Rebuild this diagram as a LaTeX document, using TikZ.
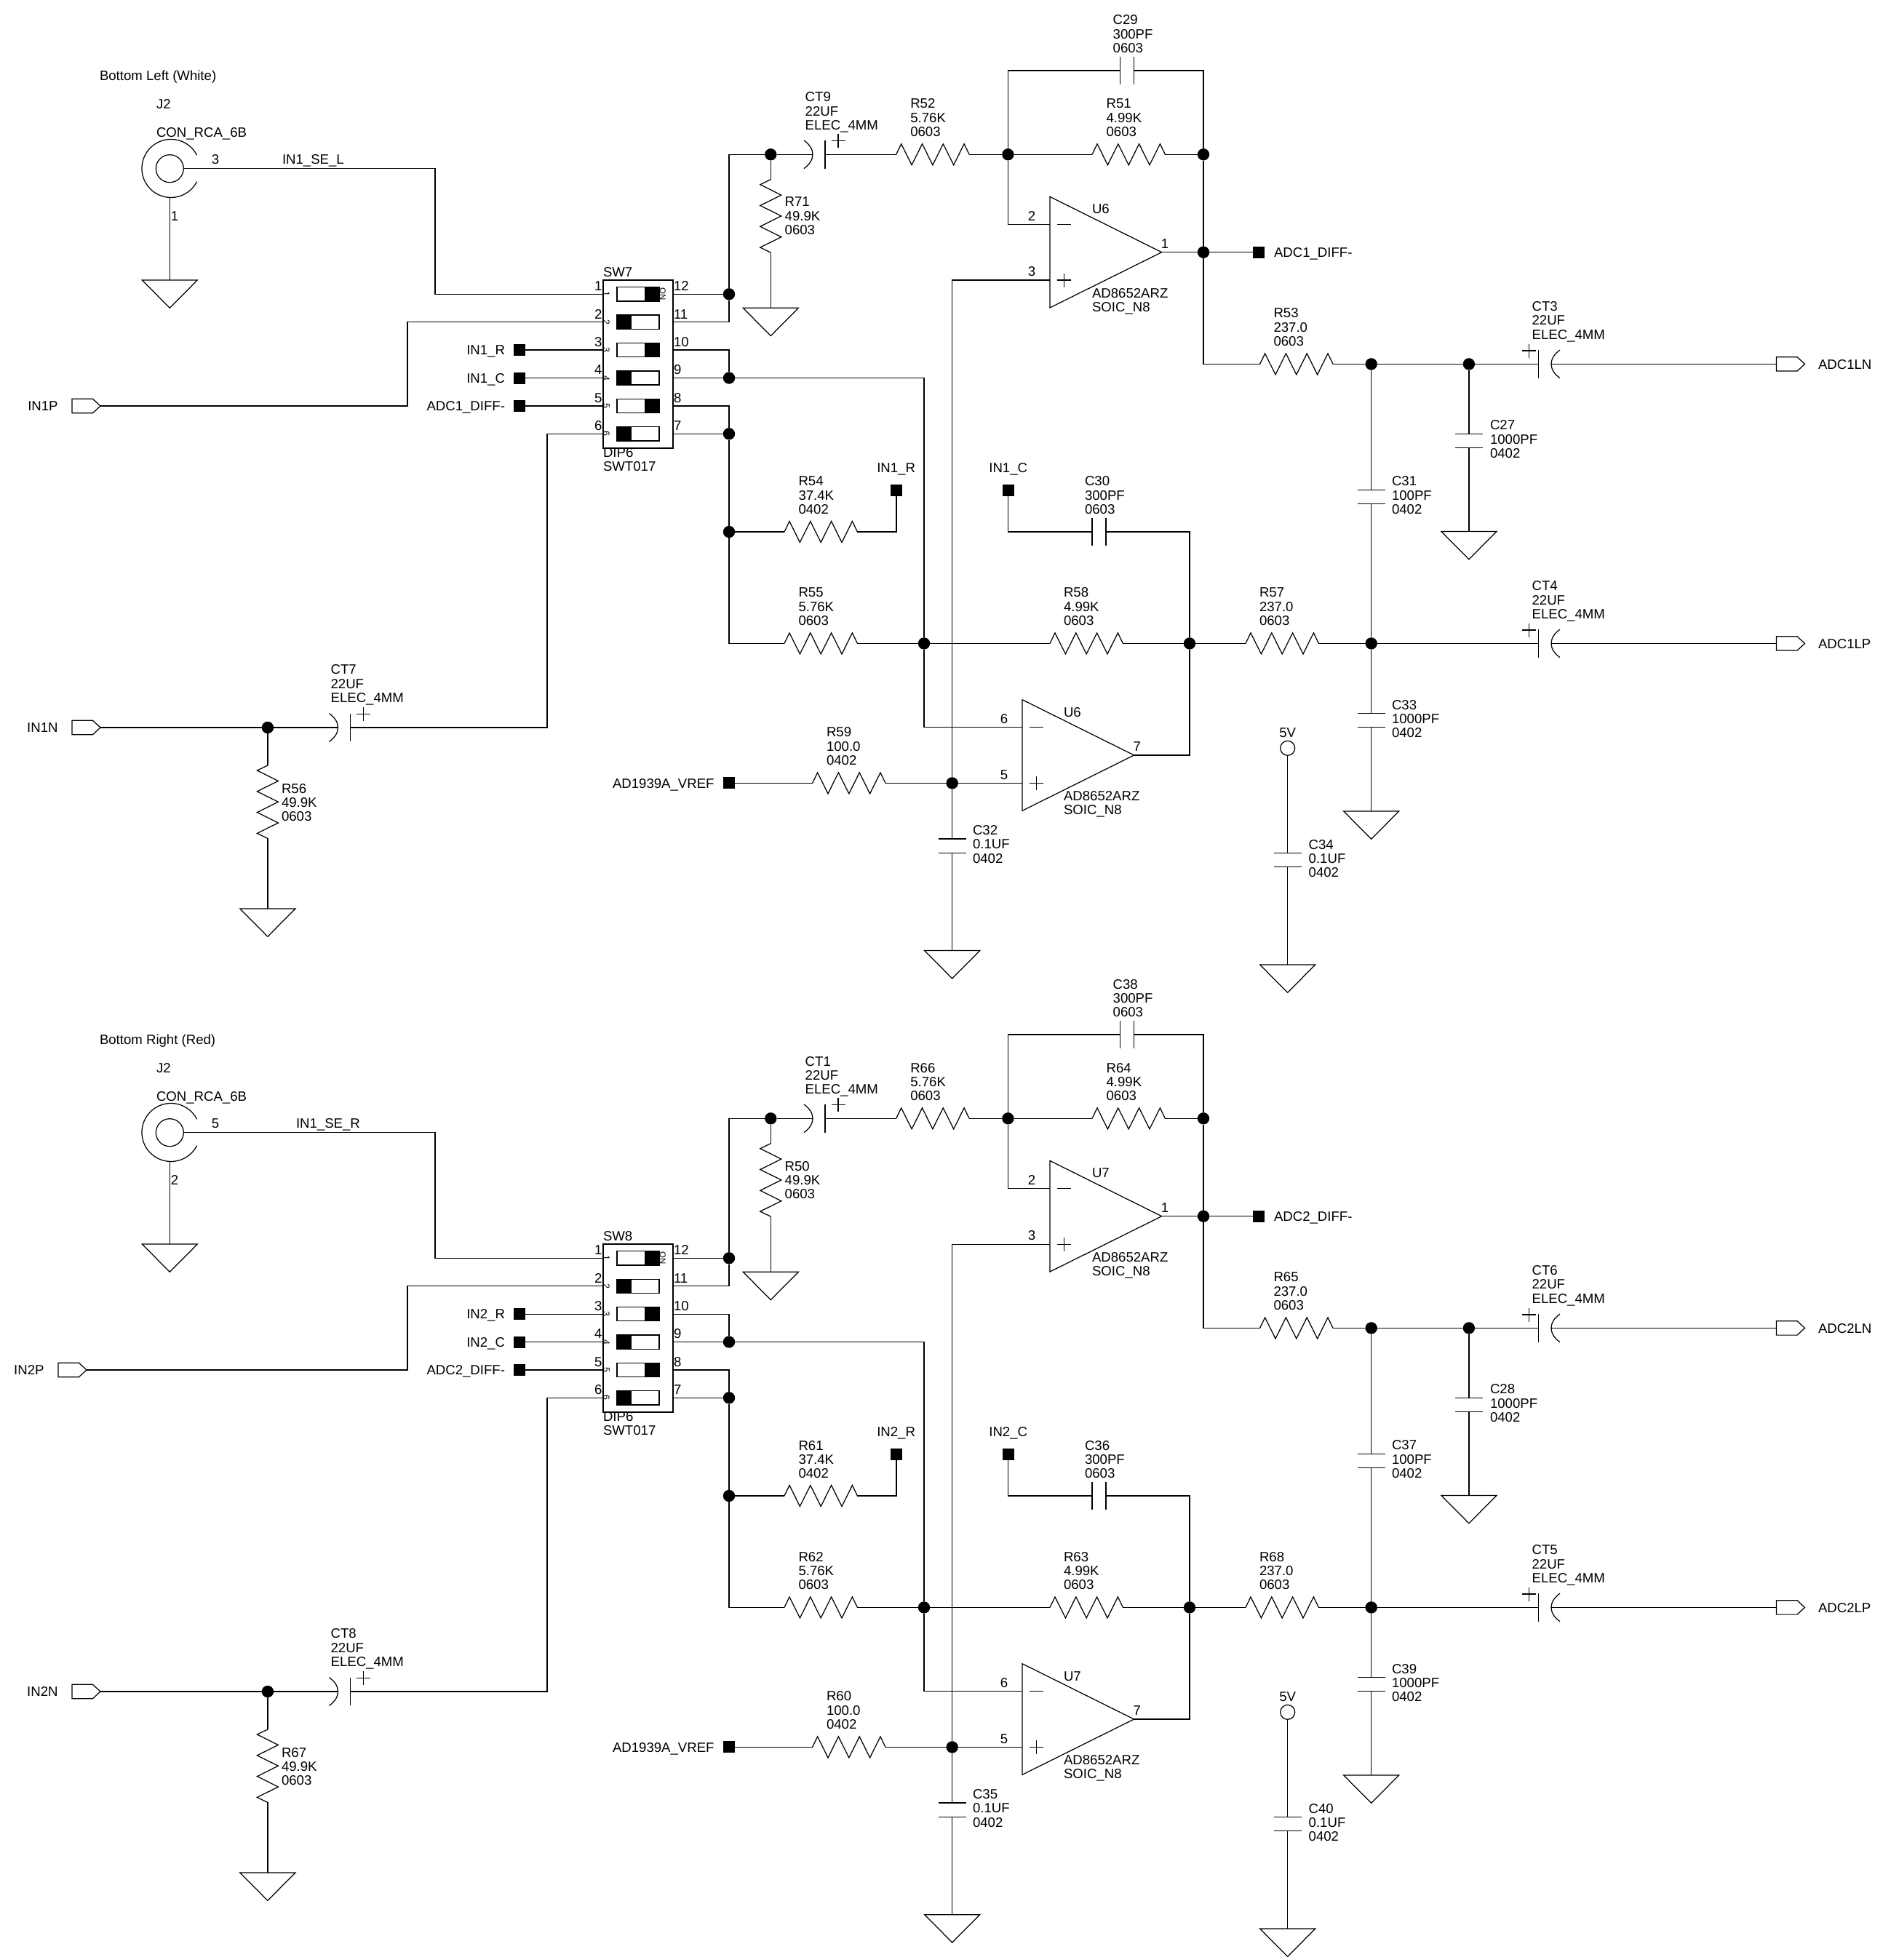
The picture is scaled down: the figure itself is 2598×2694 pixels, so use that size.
\documentclass[tikz,border=0pt]{standalone}
\usepackage{fontspec}
\setmainfont{Liberation Sans}
\tikzset{
  wire/.style={line width=.62pt,black,line join=miter},
  dot/.style={circle,fill=black,draw=none,minimum size=8.2pt,inner sep=0pt,outer sep=0pt},
  sqr/.style={rectangle,fill=black,draw=none,minimum size=8pt,inner sep=0pt,outer sep=0pt},
  lab/.style={font=\fontsize{9.3}{9.65}\selectfont,inner sep=0pt,outer sep=0pt},
  labthree/.style={lab,align=left,anchor=north west},
  labtiny/.style={font=\fontsize{6.2}{7}\selectfont,inner sep=0pt,outer sep=0pt,rotate=-90},
  labon/.style={font=\fontsize{5.7}{7}\selectfont,inner sep=0pt,outer sep=0pt,rotate=-90},
  swbox/.style={draw,line width=.62pt,rectangle,inner sep=0pt,outer sep=0pt,minimum width=48pt,minimum height=115.5pt},
  ring/.style={draw,line width=.62pt,circle,inner sep=0pt,outer sep=0pt},
}
% text helpers (#2,#3 = left/right/centre and cap-centre of the line)
\newcommand{\tx}[4]{\node[lab,anchor=base west] (\pf t#1) at (#2,#3+6.7) {#4};}
\newcommand{\txr}[4]{\node[lab,anchor=base east] (\pf t#1) at (#2,#3+6.7) {#4};}
\newcommand{\txc}[4]{\node[lab,anchor=base] (\pf t#1) at (#2,#3+6.7) {#4};}
\newcommand{\three}[6]{\node[labthree] (\pf t#1) at (#2,#3-6.7) {#4\\#5\\#6};}
% components
\newcommand{\resh}[3]{%
  \coordinate (\pf#1l) at (#2,#3); \coordinate (\pf#1r) at (#2+100.4,#3);
  \draw[wire] (\pf#1l) -- ++(7,-14.5) -- ++(14.4,29) -- ++(14.4,-29) -- ++(14.4,29) -- ++(14.4,-29) -- ++(14.4,29) -- ++(14.4,-29) -- (\pf#1r);}
\newcommand{\resv}[3]{%
  \coordinate (\pf#1t) at (#2,#3); \coordinate (\pf#1b) at (#2,#3+100.4);
  \draw[wire] (\pf#1t) -- ++(-14.5,7) -- ++(29,14.4) -- ++(-29,14.4) -- ++(29,14.4) -- ++(-29,14.4) -- ++(29,14.4) -- ++(-29,14.4) -- (\pf#1b);}
\newcommand{\capv}[3]{%
  \coordinate (\pf#1t) at (#2,#3); \coordinate (\pf#1b) at (#2,#3+19.3);
  \draw[wire] (#2-19,#3) -- (#2+19,#3) (#2-19,#3+19.3) -- (#2+19,#3+19.3);}
\newcommand{\caph}[3]{%
  \coordinate (\pf#1l) at (#2,#3); \coordinate (\pf#1r) at (#2+19,#3);
  \draw[wire] (#2,#3-19) -- (#2,#3+19) (#2+19,#3-19) -- (#2+19,#3+19);}
% curved plate on the left, straight plate on the right, plus on the right
\newcommand{\elecA}[3]{%
  \coordinate (\pf#1l) at (#2,#3); \coordinate (\pf#1r) at (#2+17,#3);
  \draw[wire] (#2-12,#3-19.3) .. controls (#2+4,#3-8) and (#2+4,#3+8) .. (#2-12,#3+19.3);
  \draw[wire] (#2+17,#3-19.3) -- (#2+17,#3+19.3);
  \draw[wire] (#2+25.5,#3-18.6) -- (#2+44.5,#3-18.6) (#2+35,#3-28.1) -- (#2+35,#3-9.1);}
% straight plate on the left, curved plate on the right, plus on the left
\newcommand{\elecB}[3]{%
  \coordinate (\pf#1l) at (#2,#3); \coordinate (\pf#1r) at (#2+17.2,#3);
  \draw[wire] (#2,#3-19.3) -- (#2,#3+19.3);
  \draw[wire] (#2+29.2,#3-19.3) .. controls (#2+13.2,#3-8) and (#2+13.2,#3+8) .. (#2+29.2,#3+19.3);
  \draw[wire] (#2-23,#3-18.4) -- (#2-4,#3-18.4) (#2-13.5,#3-27.9) -- (#2-13.5,#3-8.9);}
\newcommand{\gnd}[3]{%
  \coordinate (\pf#1) at (#2,#3);
  \draw[wire] (#2-38,#3) -- (#2+38,#3) -- (#2,#3+38.3) -- cycle;}
\newcommand{\portc}[3]{%
  \coordinate (\pf#1l) at (#2,#3); \coordinate (\pf#1r) at (#2+39,#3);
  \draw[wire] (#2,#3-9.7) -- (#2+28.5,#3-9.7) -- (#2+39,#3) -- (#2+28.5,#3+9.7) -- (#2,#3+9.7) -- cycle;}
\newcommand{\opamp}[3]{%
  \coordinate (\pf#1m) at (#2,#3+38); \coordinate (\pf#1p) at (#2,#3+114.7); \coordinate (\pf#1o) at (#2+153.6,#3+76.3);
  \draw[wire] (#2,#3) -- (#2,#3+152.6) -- (\pf#1o) -- cycle;
  \draw[wire] (#2+9.7,#3+38) -- (#2+28.7,#3+38);
  \draw[wire] (#2+9.7,#3+114.7) -- (#2+28.7,#3+114.7) (#2+19.2,#3+105.2) -- (#2+19.2,#3+124.2);}

\newcommand{\drawhalf}{%
\begin{scope}[yshift=\dyy]
  % dots
  \node[dot] (\pf dA) at (1002,404.3) {};
  \node[dot] (\pf dB) at (1002,519.5) {};
  \node[dot] (\pf dC) at (1002,596.3) {};
  \node[dot] (\pf dD) at (1002,731) {};
  \node[dot] (\pf dE) at (1059.3,212.3) {};
  \node[dot] (\pf dF) at (1385.4,212.3) {};
  \node[dot] (\pf dG) at (1654,212.3) {};
  \node[dot] (\pf dH) at (1654,346.7) {};
  \node[dot] (\pf dI) at (1884.7,500.4) {};
  \node[dot] (\pf dJ) at (2018.9,500.4) {};
  \node[dot] (\pf dK) at (1270,884.4) {};
  \node[dot] (\pf dL) at (1635,884.4) {};
  \node[dot] (\pf dM) at (1884.7,884.4) {};
  \node[dot] (\pf dN) at (1308.7,1076.4) {};
  \node[dot] (\pf dO) at (367.9,1000) {};
  % squares
  \node[sqr] (\pf sR) at (714,481.1) {};
  \node[sqr] (\pf sC) at (714,519.5) {};
  \node[sqr] (\pf sD) at (714,557.9) {};
  \node[sqr] (\pf sDO) at (1730,346.7) {};
  \node[sqr] (\pf sIR) at (1232,673.5) {};
  \node[sqr] (\pf sIC) at (1385.7,673.5) {};
  \node[sqr] (\pf sV) at (1001.5,1076.4) {};
  % connector J2
  \node[ring,minimum size=19pt] (\pf jin) at (233.3,231.7) {};
  \coordinate (\pf jb) at (233.3,271.4);
  \draw[wire] (270.6,213.3) arc[start angle=27,end angle=333,radius=20pt];
  \gnd{gJ}{233.3}{385}
  % switch
  \node[swbox] (\pf sw) at (877,500.5) {};
  \foreach \i/\r/\yy/\on in {1/12/404.3/1,2/11/442.7/0,3/10/481.1/1,4/9/519.5/0,5/8/557.9/1,6/7/596.3/0}{
    \coordinate (\pf swl\i) at (829,\yy);
    \coordinate (\pf swr\i) at (925,\yy);
    \draw[wire] (848,\yy-9.6) rectangle (906,\yy+9.6);
    \ifnum\on=1 \fill (886,\yy-9.9) rectangle (906.3,\yy+9.9);
    \else \fill (847.7,\yy-9.9) rectangle (868,\yy+9.9);\fi
    \txr{ln\i}{827.5}{\yy-11.4}{\i}
    \tx{rn\i}{926}{\yy-11.4}{\r}
    \node[labtiny] (\pf tin\i) at (833.5,\yy) {\i};
  }
  \node[labon] (\pf ton) at (910.8,404.5) {ON};
  % components
  \resh{R52}{1231.7}{212.3}
  \resh{R51}{1501}{212.3}
  \resh{R53}{1731.6}{500.4}
  \resh{R57}{1712}{884.4}
  \resh{R58}{1443}{884.4}
  \resh{R55}{1078}{884.4}
  \resh{R54}{1078}{731}
  \resh{R59}{1116.6}{1076.4}
  \resv{R71}{1059.3}{246.7}
  \resv{R56}{367.9}{1052}
  \elecA{CT9}{1117}{212.3}
  \elecA{CT7}{464.5}{1000}
  \elecB{CT3}{2114.8}{500.4}
  \elecB{CT4}{2114.8}{884.4}
  \caph{C29}{1539.5}{97}
  \caph{C30}{1501}{731}
  \capv{C31}{1884.7}{673.4}
  \capv{C27}{2018.9}{596.4}
  \capv{C33}{1884.7}{980.5}
  \capv{C32}{1308.7}{1153}
  \capv{C34}{1769.7}{1172.4}
  \opamp{Ua}{1443}{270.4}
  \opamp{Ub}{1405}{961.7}
  \gnd{g71}{1059.3}{423.3}
  \gnd{g56}{367.9}{1249}
  \gnd{g32}{1308.7}{1306.6}
  \gnd{g33}{1884.7}{1115}
  \gnd{g27}{2018.9}{730.5}
  \gnd{g34}{1769.7}{1326}
  \portc{pP}{\px}{558}
  \portc{pN}{99}{1000}
  \portc{pLN}{2441.5}{500.4}
  \portc{pLP}{2441.5}{884.4}
  \node[ring,minimum size=10pt] (\pf vcc) at (1769.7,1028.3) {};
  % corners
  \coordinate (\pf cJ) at (598,404.3);
  \coordinate (\pf cP) at (560,442.7);
  \coordinate (\pf cN) at (752,596.3);
  % wires
  \draw[wire] (\pf jin) -| (\pf cJ) -- (\pf swl1);
  \draw[wire] (\pf jb) -- (\pf gJ);
  \draw[wire] (\pf pPr) -| (\pf cP) -- (\pf swl2);
  \draw[wire] (\pf sR) -- (\pf swl3);
  \draw[wire] (\pf sC) -- (\pf swl4);
  \draw[wire] (\pf sD) -- (\pf swl5);
  \draw[wire] (\pf CT7r) -| (\pf cN) -- (\pf swl6);
  \draw[wire] (\pf pNr) -- (\pf dO) -- (\pf CT7l);
  \draw[wire] (\pf dO) -- (\pf R56t);
  \draw[wire] (\pf R56b) -- (\pf g56);
  \draw[wire] (\pf swr1) -- (\pf dA);
  \draw[wire] (\pf swr2) -| (\pf dA);
  \draw[wire] (\pf swr3) -| (\pf dB);
  \draw[wire] (\pf swr4) -- (\pf dB);
  \draw[wire] (\pf swr5) -| (\pf dC);
  \draw[wire] (\pf swr6) -- (\pf dC);
  \draw[wire] (\pf dC) -- (\pf dD);
  \draw[wire] (\pf dD) -- (\pf R54l);
  \draw[wire] (\pf dD) |- (\pf R55l);
  \draw[wire] (\pf R54r) -| (\pf sIR);
  \draw[wire] (\pf R55r) -- (\pf dK);
  \draw[wire] (\pf dK) -- (\pf R58l);
  \draw[wire] (\pf R58r) -- (\pf dL);
  \draw[wire] (\pf dL) -- (\pf R57l);
  \draw[wire] (\pf R57r) -- (\pf dM);
  \draw[wire] (\pf dM) -- (\pf CT4l);
  \draw[wire] (\pf CT4r) -- (\pf pLPl);
  \draw[wire] (\pf dM) -- (\pf C31b);
  \draw[wire] (\pf C31t) -- (\pf dI);
  \draw[wire] (\pf dM) -- (\pf C33t);
  \draw[wire] (\pf C33b) -- (\pf g33);
  \draw[wire] (\pf R53r) -- (\pf dI);
  \draw[wire] (\pf dI) -- (\pf dJ);
  \draw[wire] (\pf dJ) -- (\pf CT3l);
  \draw[wire] (\pf CT3r) -- (\pf pLNl);
  \draw[wire] (\pf dJ) -- (\pf C27t);
  \draw[wire] (\pf C27b) -- (\pf g27);
  \draw[wire] (\pf dH) |- (\pf R53l);
  \draw[wire] (\pf dH) -- (\pf dG);
  \draw[wire] (\pf C29r) -| (\pf dG);
  \draw[wire] (\pf C29l) -| (\pf dF);
  \draw[wire] (\pf R52r) -- (\pf dF);
  \draw[wire] (\pf dF) -- (\pf R51l);
  \draw[wire] (\pf R51r) -- (\pf dG);
  \draw[wire] (\pf CT9r) -- (\pf R52l);
  \draw[wire] (\pf dE) -- (\pf CT9l);
  \draw[wire] (\pf dE) -- (\pf R71t);
  \draw[wire] (\pf R71b) -- (\pf g71);
  \draw[wire] (\pf dE) -| (\pf dA);
  \draw[wire] (\pf dF) |- (\pf Uam);
  \draw[wire] (\pf Uap) -| (\pf dN);
  \draw[wire] (\pf dN) -- (\pf C32t);
  \draw[wire] (\pf C32b) -- (\pf g32);
  \draw[wire] (\pf dN) -- (\pf Ubp);
  \draw[wire] (\pf R59r) -- (\pf dN);
  \draw[wire] (\pf sV) -- (\pf R59l);
  \draw[wire] (\pf Uao) -- (\pf dH);
  \draw[wire] (\pf dH) -- (\pf sDO);
  \draw[wire] (\pf dB) -| (\pf dK);
  \draw[wire] (\pf dK) |- (\pf Ubm);
  \draw[wire] (\pf Ubo) -| (\pf dL);
  \draw[wire] (\pf C30r) -| (\pf dL);
  \draw[wire] (\pf sIC) |- (\pf C30l);
  \draw[wire] (\pf vcc) -- (\pf C34t);
  \draw[wire] (\pf C34b) -- (\pf g34);
  % texts
  \tx{title}{137}{104}{\ttl}
  \tx{jr}{215}{143}{J2}
  \tx{jv}{215}{182}{CON\_RCA\_6B}
  \txc{jp}{296}{219}{\Jone}
  \txc{jq}{240}{297}{\Jtwo}
  \tx{se}{\sex}{219}{\senet}
  \tx{swn}{829}{373.3}{\swn}
  \tx{dip}{829}{622}{DIP6}
  \tx{swt}{829}{641}{SWT017}
  \txr{pPn}{\ptx}{558}{\pnm}
  \txr{pNn}{79.6}{1000}{\nnm}
  \txr{sRn}{694}{481}{\inr}
  \txr{sCn}{694}{519.5}{\inc}
  \txr{sDn}{694}{558}{\dif}
  \tx{sDOn}{1751}{346.7}{\dif}
  \txc{sIRn}{1231.6}{643}{\inr}
  \txc{sICn}{1385.7}{643}{\inc}
  \txr{sVn}{981.6}{1076.4}{AD1939A\_VREF}
  \tx{ua}{1501}{287}{\unm}
  \tx{ub}{1462}{978.6}{\unm}
  \tx{uap}{1501}{403}{AD8652ARZ}
  \tx{uaq}{1501}{422}{SOIC\_N8}
  \tx{ubp}{1462}{1093.4}{AD8652ARZ}
  \tx{ubq}{1462}{1112.8}{SOIC\_N8}
  \txc{u2}{1418}{297}{2}
  \txc{u3}{1418}{373}{3}
  \txc{u1}{1601}{335}{1}
  \txc{u6}{1380}{987.8}{6}
  \txc{u5}{1380}{1064.8}{5}
  \txc{u7}{1562.8}{1026}{7}
  \txc{vcct}{1769.7}{1006.7}{5V}
  \tx{lnn}{2499}{500.4}{\lnn}
  \tx{lpn}{2499}{884.4}{\lpn}
  \three{a}{1529.7}{27.7}{\nA}{300PF}{0603}
  \three{b}{1106.7}{133.7}{\nB}{22UF}{ELEC\_4MM}
  \three{c}{1251.3}{142.7}{\nC}{5.76K}{0603}
  \three{d}{1520.6}{142.7}{\nD}{4.99K}{0603}
  \three{e}{1078.7}{277.7}{\nE}{49.9K}{0603}
  \three{f}{1750.5}{430.5}{\nF}{237.0}{0603}
  \three{g}{2105.6}{421.3}{\nG}{22UF}{ELEC\_4MM}
  \three{h}{2048}{584.6}{\nH}{1000PF}{0402}
  \three{i}{1913}{661.6}{\nI}{100PF}{0402}
  \three{j}{2105.6}{805.5}{\nJ}{22UF}{ELEC\_4MM}
  \three{k}{1731}{814.7}{\nK}{237.0}{0603}
  \three{l}{1462}{814.7}{\nL}{4.99K}{0603}
  \three{m}{1097.5}{814.7}{\nM}{5.76K}{0603}
  \three{n}{1097.5}{661.7}{\nN}{37.4K}{0402}
  \three{o}{1491}{661.7}{\nO}{300PF}{0603}
  \three{p}{1136}{1006.6}{\nP}{100.0}{0402}
  \three{q}{1913}{968.8}{\nQ}{1000PF}{0402}
  \three{r}{1337}{1141.3}{\nR}{0.1UF}{0402}
  \three{s}{1798.7}{1161}{\nS}{0.1UF}{0402}
  \three{t}{454.6}{920.6}{\nT}{22UF}{ELEC\_4MM}
  \three{u}{387}{1084}{\nU}{49.9K}{0603}
\end{scope}}

\begin{document}
\begin{tikzpicture}[x=.5pt,y=-.5pt]
  \path[use as bounding box,fill=white] (0,0) rectangle (2598,2694);
  % upper channel
  \def\pf{a}\def\dyy{0pt}\def\px{99}\def\ptx{79.6}\def\sex{388}
  \def\ttl{Bottom Left (White)}\def\Jone{3}\def\Jtwo{1}\def\senet{IN1\_SE\_L}
  \def\swn{SW7}\def\pnm{IN1P}\def\nnm{IN1N}\def\inr{IN1\_R}\def\inc{IN1\_C}\def\dif{ADC1\_DIFF-}
  \def\unm{U6}\def\lnn{ADC1LN}\def\lpn{ADC1LP}
  \def\nA{C29}\def\nB{CT9}\def\nC{R52}\def\nD{R51}\def\nE{R71}\def\nF{R53}\def\nG{CT3}
  \def\nH{C27}\def\nI{C31}\def\nJ{CT4}\def\nK{R57}\def\nL{R58}\def\nM{R55}\def\nN{R54}
  \def\nO{C30}\def\nP{R59}\def\nQ{C33}\def\nR{C32}\def\nS{C34}\def\nT{CT7}\def\nU{R56}
  \drawhalf
  % lower channel
  \def\pf{b}\def\dyy{-662.5pt}\def\px{80}\def\ptx{60.6}\def\sex{407}
  \def\ttl{Bottom Right (Red)}\def\Jone{5}\def\Jtwo{2}\def\senet{IN1\_SE\_R}
  \def\swn{SW8}\def\pnm{IN2P}\def\nnm{IN2N}\def\inr{IN2\_R}\def\inc{IN2\_C}\def\dif{ADC2\_DIFF-}
  \def\unm{U7}\def\lnn{ADC2LN}\def\lpn{ADC2LP}
  \def\nA{C38}\def\nB{CT1}\def\nC{R66}\def\nD{R64}\def\nE{R50}\def\nF{R65}\def\nG{CT6}
  \def\nH{C28}\def\nI{C37}\def\nJ{CT5}\def\nK{R68}\def\nL{R63}\def\nM{R62}\def\nN{R61}
  \def\nO{C36}\def\nP{R60}\def\nQ{C39}\def\nR{C35}\def\nS{C40}\def\nT{CT8}\def\nU{R67}
  \drawhalf
\end{tikzpicture}
\end{document}
